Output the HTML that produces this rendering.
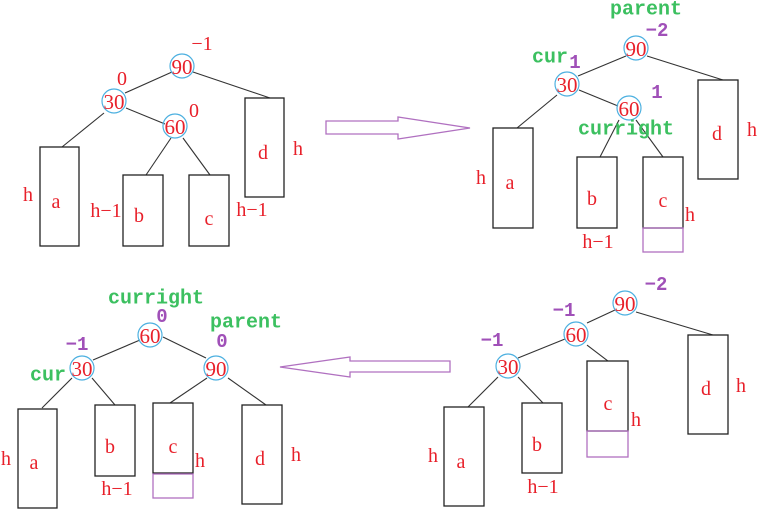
<!DOCTYPE html>
<html><head><meta charset="utf-8"><style>
html,body{margin:0;padding:0;background:#fff;}
svg{display:block}
.n{font-family:"Liberation Serif",serif;font-size:21px;fill:#e8202a;text-anchor:middle;dominant-baseline:central}
.r{font-family:"Liberation Serif",serif;font-size:20px;fill:#e8202a;text-anchor:middle;dominant-baseline:central}
.g{font-family:"Liberation Mono",monospace;font-size:20px;font-weight:bold;fill:#3cc060;text-anchor:middle;dominant-baseline:central}
.p{font-family:"Liberation Mono",monospace;font-size:19px;font-weight:bold;fill:#a050b8;text-anchor:middle;dominant-baseline:central}
.b{fill:none;stroke:#222;stroke-width:1.3}
.l{stroke:#333;stroke-width:1.1}
.c{fill:none;stroke:#4cb0e0;stroke-width:1.2}
.pb{fill:none;stroke:#b070c0;stroke-width:1.3}
</style></head><body>
<svg width="760" height="510" viewBox="0 0 760 510" xmlns="http://www.w3.org/2000/svg">
<!-- Q1 -->
<g>
<line class="l" x1="172" y1="72" x2="125" y2="93"/>
<line class="l" x1="193" y1="72" x2="270" y2="98"/>
<line class="l" x1="104" y1="113" x2="62" y2="147"/>
<line class="l" x1="126" y1="108" x2="165" y2="124"/>
<line class="l" x1="171" y1="138" x2="146" y2="175"/>
<line class="l" x1="183" y1="138" x2="210" y2="175"/>
<rect class="b" x="40" y="147" width="39" height="99"/>
<rect class="b" x="123" y="175" width="40" height="71"/>
<rect class="b" x="189" y="175" width="40" height="71"/>
<rect class="b" x="245" y="98" width="39" height="99"/>
<circle class="c" cx="182" cy="66" r="12"/><text class="n" x="182" y="67">90</text>
<circle class="c" cx="114" cy="101" r="12"/><text class="n" x="114" y="102">30</text>
<circle class="c" cx="175" cy="126" r="12"/><text class="n" x="175" y="127">60</text>
<text class="r" x="202" y="44">−1</text>
<text class="r" x="122" y="79">0</text>
<text class="r" x="194" y="111">0</text>
<text class="r" x="56" y="202">a</text><text class="r" x="28" y="195">h</text>
<text class="r" x="106" y="211">h−1</text>
<text class="r" x="139" y="216">b</text>
<text class="r" x="209" y="219">c</text><text class="r" x="252" y="210">h−1</text>
<text class="r" x="263" y="153">d</text><text class="r" x="298" y="149">h</text>
</g>
<!-- right arrow -->
<polygon class="pb" points="326,121 398,121 398,117 470,128 398,139 398,134 326,134"/>
<!-- Q2 -->
<g>
<line class="l" x1="626" y1="56" x2="578" y2="76"/>
<line class="l" x1="647" y1="56" x2="723" y2="80"/>
<line class="l" x1="557" y1="95" x2="517" y2="128"/>
<line class="l" x1="579" y1="90" x2="618" y2="106"/>
<line class="l" x1="619" y1="120" x2="600" y2="157"/>
<line class="l" x1="636" y1="120" x2="663" y2="157"/>
<rect class="b" x="493" y="128" width="40" height="100"/>
<rect class="b" x="577" y="157" width="40" height="71"/>
<rect class="b" x="643" y="157" width="40" height="71"/>
<rect class="pb" x="643" y="228" width="40" height="24"/>
<rect class="b" x="698" y="80" width="40" height="99"/>
<circle class="c" cx="636" cy="48" r="12"/><text class="n" x="636" y="49">90</text>
<circle class="c" cx="567" cy="84" r="12"/><text class="n" x="567" y="85">30</text>
<circle class="c" cx="629" cy="108" r="12"/><text class="n" x="629" y="109">60</text>
<text class="g" x="646" y="10">parent</text>
<text class="p" x="657" y="31">−2</text>
<text class="g" x="550" y="58">cur</text><text class="p" x="575" y="63">1</text>
<text class="p" x="657" y="93">1</text>
<text class="g" x="626" y="130">curright</text>
<text class="r" x="510" y="183">a</text><text class="r" x="481" y="178">h</text>
<text class="r" x="592" y="199">b</text><text class="r" x="598" y="242">h−1</text>
<text class="r" x="663" y="201">c</text><text class="r" x="690" y="215">h</text>
<text class="r" x="717" y="134">d</text><text class="r" x="752" y="130">h</text>
</g>
<!-- left arrow -->
<polygon class="pb" points="450,361 350,361 350,357 280,367 350,377 350,372 450,372"/>
<!-- Q3 -->
<g>
<line class="l" x1="140" y1="340" x2="93" y2="360"/>
<line class="l" x1="163" y1="337" x2="206" y2="358"/>
<line class="l" x1="72" y1="378" x2="42" y2="408"/>
<line class="l" x1="92" y1="378" x2="115" y2="405"/>
<line class="l" x1="207" y1="378" x2="170" y2="403"/>
<line class="l" x1="228" y1="378" x2="266" y2="405"/>
<rect class="b" x="18" y="409" width="39" height="99"/>
<rect class="b" x="95" y="405" width="40" height="71"/>
<rect class="b" x="153" y="403" width="40" height="70"/>
<rect class="pb" x="153" y="474" width="40" height="24"/>
<rect class="b" x="242" y="405" width="40" height="99"/>
<circle class="c" cx="150" cy="335" r="12"/><text class="n" x="150" y="336">60</text>
<circle class="c" cx="82" cy="368" r="12"/><text class="n" x="82" y="369">30</text>
<circle class="c" cx="216" cy="368" r="12"/><text class="n" x="216" y="369">90</text>
<text class="g" x="156" y="299">curright</text>
<text class="p" x="162" y="317">0</text>
<text class="g" x="246" y="323">parent</text>
<text class="p" x="222" y="342">0</text>
<text class="p" x="77" y="345">−1</text>
<text class="g" x="48" y="376">cur</text>
<text class="r" x="34" y="463">a</text><text class="r" x="6" y="459">h</text>
<text class="r" x="110" y="447">b</text><text class="r" x="117" y="489">h−1</text>
<text class="r" x="173" y="447">c</text><text class="r" x="200" y="461">h</text>
<text class="r" x="260" y="459">d</text><text class="r" x="296" y="455">h</text>
</g>
<!-- Q4 -->
<g>
<line class="l" x1="615" y1="310" x2="587" y2="323"/>
<line class="l" x1="636" y1="312" x2="713" y2="335"/>
<line class="l" x1="565" y1="339" x2="518" y2="358"/>
<line class="l" x1="587" y1="345" x2="608" y2="361"/>
<line class="l" x1="498" y1="377" x2="468" y2="407"/>
<line class="l" x1="518" y1="377" x2="543" y2="403"/>
<rect class="b" x="444" y="407" width="40" height="99"/>
<rect class="b" x="522" y="403" width="40" height="70"/>
<rect class="b" x="587" y="361" width="41" height="70"/>
<rect class="pb" x="587" y="431" width="41" height="26"/>
<rect class="b" x="688" y="335" width="40" height="99"/>
<circle class="c" cx="625" cy="303" r="12"/><text class="n" x="625" y="304">90</text>
<circle class="c" cx="576" cy="334" r="12"/><text class="n" x="576" y="335">60</text>
<circle class="c" cx="508" cy="366" r="12"/><text class="n" x="508" y="367">30</text>
<text class="p" x="656" y="285">−2</text>
<text class="p" x="564" y="311">−1</text>
<text class="p" x="492" y="341">−1</text>
<text class="r" x="461" y="462">a</text><text class="r" x="433" y="456">h</text>
<text class="r" x="537" y="445">b</text><text class="r" x="543" y="487">h−1</text>
<text class="r" x="608" y="404">c</text><text class="r" x="636" y="420">h</text>
<text class="r" x="706" y="389">d</text><text class="r" x="741" y="386">h</text>
</g>
</svg>
</body></html>
